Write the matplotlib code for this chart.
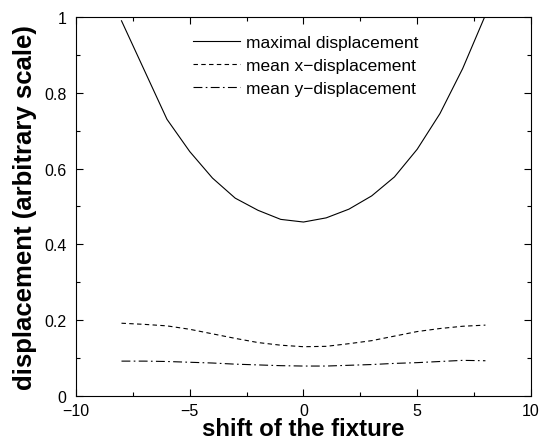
import matplotlib
matplotlib.use("Agg")
import matplotlib.pyplot as plt
from matplotlib.ticker import MultipleLocator, FuncFormatter

plt.rcParams['font.family'] = ['Liberation Sans', 'DejaVu Sans']

# valeurs
shift = [-8, -7, -6, -5, -4, -3, -2, -1, 0, 1, 2, 3, 4, 5, 6, 7, 8]
max_disp = [0.99, 0.86, 0.73, 0.645, 0.575, 0.522, 0.49, 0.466, 0.459,
            0.47, 0.493, 0.528, 0.578, 0.651, 0.745, 0.864, 1.005]
mean_x = [0.192, 0.189, 0.185, 0.176, 0.164, 0.152, 0.141, 0.134, 0.130,
          0.131, 0.138, 0.146, 0.158, 0.170, 0.178, 0.184, 0.187]
mean_y = [0.092, 0.092, 0.091, 0.089, 0.087, 0.084, 0.082, 0.080, 0.079,
          0.079, 0.081, 0.083, 0.086, 0.088, 0.091, 0.094, 0.093]

fig = plt.figure(figsize=(5.39, 4.39), dpi=100)
ax = fig.add_axes([0.141, 0.0957, 0.844, 0.8633])

ax.plot(shift, max_disp, color='black', lw=0.8, ls='-', label='maximal displacement')
ax.plot(shift, mean_x, color='black', lw=0.8, ls=(0, (4, 3)), label='mean x\u2212displacement')
ax.plot(shift, mean_y, color='black', lw=0.8, ls=(0, (8, 3, 1.5, 3)), label='mean y\u2212displacement')

ax.set_xlim(-10, 10)
ax.set_ylim(0, 1)
ax.xaxis.set_major_locator(MultipleLocator(5))
ax.xaxis.set_minor_locator(MultipleLocator(2.5))
ax.yaxis.set_major_locator(MultipleLocator(0.2))
ax.yaxis.set_minor_locator(MultipleLocator(0.1))
ax.xaxis.set_major_formatter(FuncFormatter(lambda v, _: f"{v:g}".replace('-', '\u2212')))
ax.yaxis.set_major_formatter(FuncFormatter(lambda v, _: f"{v:g}"))
ax.tick_params(which='both', direction='in', top=True, right=True, labelsize=11.5, width=0.8)
ax.tick_params(which='major', length=5)
ax.tick_params(which='minor', length=3)
ax.tick_params(axis='y', pad=7)
ax.tick_params(axis='x', pad=5)
for s in ax.spines.values():
    s.set_linewidth(0.8)

ax.set_xlabel('shift of the fixture', fontsize=17.3, fontweight='bold', labelpad=-1)
ax.set_ylabel('displacement (arbitrary scale)', fontsize=18.5, fontweight='bold', labelpad=5)

ax.legend(loc='upper center', bbox_to_anchor=(0.505, 0.972), borderaxespad=0, frameon=False,
          fontsize=12.5, handlelength=2.7, handletextpad=0.35, labelspacing=0.45)

fig.savefig('out.png', dpi=100)
